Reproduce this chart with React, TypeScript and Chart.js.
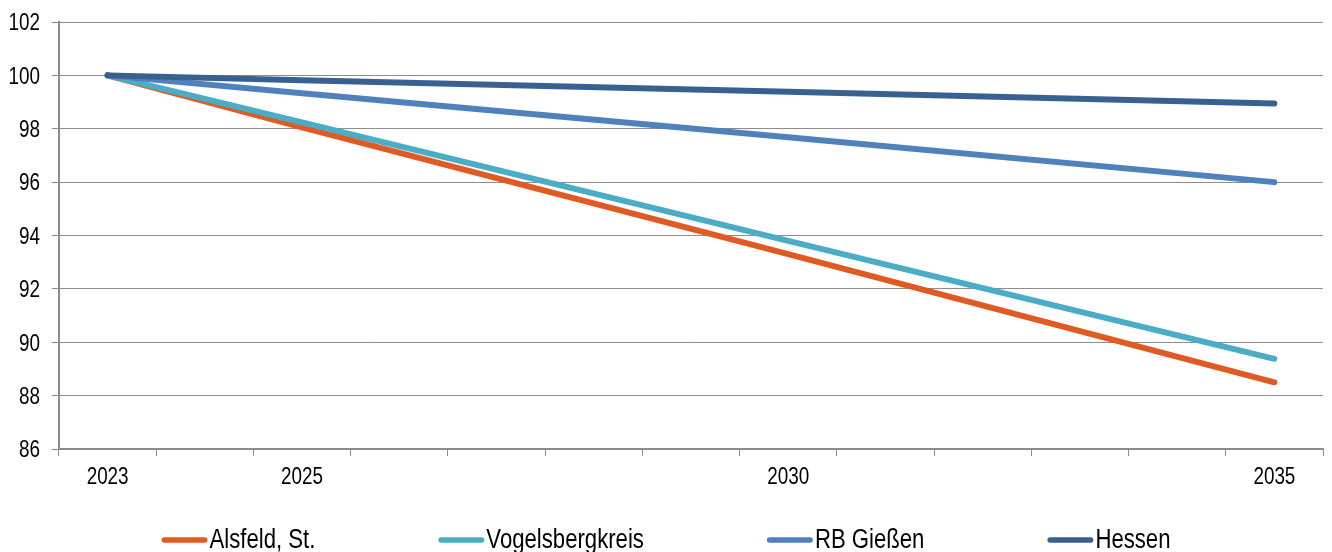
import React, { useEffect, useRef } from "react";
import { Chart, registerables } from "chart.js";

Chart.register(...registerables);

const years = ["2023", "2024", "2025", "2026", "2027", "2028", "2029", "2030", "2031", "2032", "2033", "2034", "2035"];
const shownYears = ["2023", "2025", "2030", "2035"];

const alsfeld = [100, null, 98.05, null, null, null, null, 93.3, null, null, null, null, 88.5];
const vogelsberg = [100, null, 98.24, null, null, null, null, 93.8, null, null, null, null, 89.38];
const rbGiessen = [100, null, 99.33, null, null, null, null, 97.68, null, null, null, null, 96.0];
const hessen = [100, null, 99.82, null, null, null, null, 99.39, null, null, null, null, 98.95];

const seriesNames = ["Alsfeld, St.", "Vogelsbergkreis", "RB Gießen", "Hessen"];
const seriesColors = ["#E05A24", "#4BACC6", "#4F81BD", "#386192"];

const yMin = 86;
const yMax = 102;
const yStep = 2;

const FONT = "'Liberation Sans', Arial, sans-serif";
const NARROW = 0.82;
const AXIS_FONT_SIZE = 23;
const LEGEND_FONT_SIZE = 27;
const GRID_COLOR = "#8c8c8c";

function drawNarrowText(
  ctx: CanvasRenderingContext2D,
  text: string,
  x: number,
  y: number,
  align: "left" | "right" | "center"
) {
  const w = ctx.measureText(text).width * NARROW;
  let left = x;
  if (align === "right") left = x - w;
  else if (align === "center") left = x - w / 2;
  ctx.save();
  ctx.translate(left, y);
  ctx.scale(NARROW, 1);
  ctx.textAlign = "left";
  ctx.textBaseline = "alphabetic";
  ctx.fillText(text, 0, 0);
  ctx.restore();
}

const textPlugin = {
  id: "narrowText",
  afterDraw(chart: any) {
    const ctx = chart.ctx as CanvasRenderingContext2D;
    const xs = chart.scales.x;
    const ys = chart.scales.y;
    ctx.save();
    ctx.fillStyle = "#000";
    ctx.font = `${AXIS_FONT_SIZE}px ${FONT}`;
    // y tick labels
    ys.ticks.forEach((t: any, i: number) => {
      const py = ys.getPixelForTick(i);
      drawNarrowText(ctx, String(t.label), ys.right - 19, py + 8.3, "right");
    });
    // x tick labels
    xs.ticks.forEach((t: any, i: number) => {
      const lab = years[t.value] ?? "";
      if (!shownYears.includes(lab)) return;
      const px = xs.getPixelForTick(i);
      drawNarrowText(ctx, lab, px, chart.chartArea.bottom + 35, "center");
    });
    // legend
    ctx.font = `${LEGEND_FONT_SIZE}px ${FONT}`;
    const items = chart.data.datasets.map((ds: any) => ({
      text: ds.label as string,
      color: ds.borderColor as string,
      w: ctx.measureText(ds.label).width * NARROW,
    }));
    const lineW = 46;
    const textGap = 2;
    const gap = 123;
    const total =
      items.reduce((s: number, it: any) => s + lineW + textGap + it.w, 0) + gap * (items.length - 1);
    let x = (chart.width - total) / 2;
    const yLine = chart.height - 12;
    const yText = chart.height - 4;
    items.forEach((it: any) => {
      ctx.strokeStyle = it.color;
      ctx.lineWidth = 5.5;
      ctx.lineCap = "round";
      ctx.beginPath();
      ctx.moveTo(x + 2.75, yLine);
      ctx.lineTo(x + lineW - 2.75, yLine);
      ctx.stroke();
      ctx.fillStyle = "#000";
      drawNarrowText(ctx, it.text, x + lineW + textGap, yText, "left");
      x += lineW + textGap + it.w + gap;
    });
    ctx.restore();
  },
};

export default function App() {
  const canvasRef = useRef<HTMLCanvasElement | null>(null);

  useEffect(() => {
    document.body.style.margin = "0";
    const canvas = canvasRef.current;
    if (!canvas) return;
    const seriesData = [alsfeld, vogelsberg, rbGiessen, hessen];
    const chart = new Chart(canvas, {
      type: "line",
      data: {
        labels: years,
        datasets: seriesData.map((d, i) => ({
          label: seriesNames[i],
          data: d,
          borderColor: seriesColors[i],
          backgroundColor: seriesColors[i],
          borderWidth: 6,
          borderCapStyle: "round",
          borderJoinStyle: "round",
          pointRadius: 0,
          pointHoverRadius: 0,
          tension: 0,
          spanGaps: true,
          fill: false,
          order: 4 - i,
        })),
      },
      options: {
        animation: false,
        responsive: true,
        maintainAspectRatio: false,
        layout: { padding: { top: 22, right: 9, bottom: 60, left: 0 } },
        plugins: {
          legend: { display: false },
          tooltip: { enabled: false },
          title: { display: false },
        },
        scales: {
          x: {
            type: "category",
            offset: true,
            grid: {
              display: true,
              drawOnChartArea: false,
              drawTicks: true,
              tickLength: 7,
              color: GRID_COLOR,
              offset: true,
            },
            border: { display: true, color: GRID_COLOR, width: 2 },
            ticks: {
              autoSkip: false,
              maxRotation: 0,
              minRotation: 0,
              padding: 8,
              color: "rgba(0,0,0,0)",
              font: { family: FONT, size: 12 },
              callback: function (this: any, _v: any, idx: number) {
                const lab = years[idx];
                return shownYears.includes(lab) ? lab : "";
              },
            },
            afterFit: (scale: any) => {
              scale.height = 43;
            },
          },
          y: {
            min: yMin,
            max: yMax,
            grid: {
              color: GRID_COLOR,
              lineWidth: 1,
              tickLength: 7,
              drawTicks: true,
            },
            border: { display: true, color: GRID_COLOR, width: 2 },
            ticks: {
              stepSize: yStep,
              padding: 12,
              color: "rgba(0,0,0,0)",
              font: { family: FONT, size: 12 },
            },
            afterFit: (scale: any) => {
              scale.width = 59;
            },
          },
        },
      },
      plugins: [textPlugin],
    } as any);
    return () => chart.destroy();
  }, []);

  return (
    <div style={{ position: "fixed", left: 0, top: 0, width: 1332, height: 552 }}>
      <canvas ref={canvasRef} />
    </div>
  );
}
